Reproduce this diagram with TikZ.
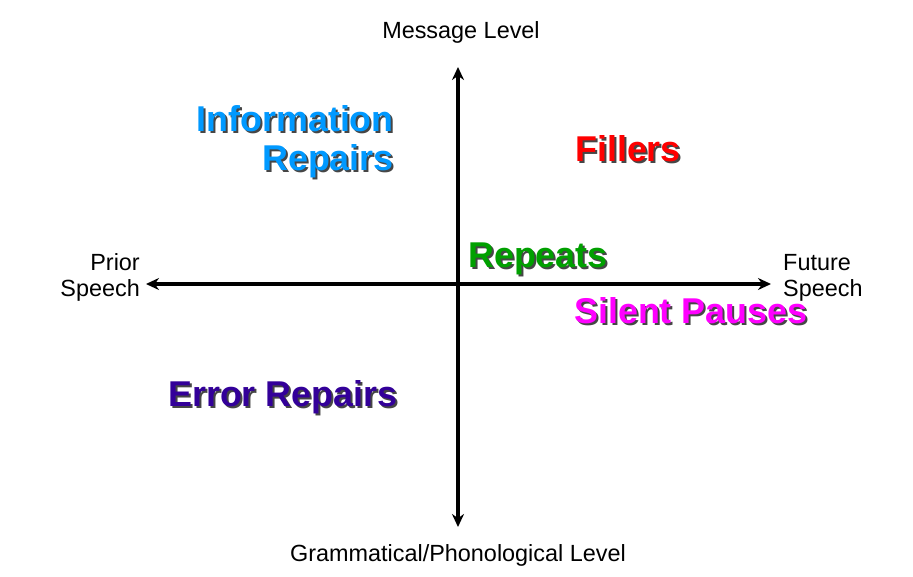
\documentclass[tikz,border=0pt]{standalone}
\usepackage{fontspec}
\setmainfont{Liberation Sans}
\usetikzlibrary{arrows.meta}

\definecolor{inforepair}{RGB}{0,153,255}
\definecolor{filler}{RGB}{255,0,0}
\definecolor{repeat}{RGB}{0,160,0}
\definecolor{pause}{RGB}{255,0,255}
\definecolor{errrepair}{RGB}{51,0,153}
\definecolor{shadowgray}{RGB}{70,70,70}

\tikzset{
  axis/.style={line width=3.2bp,{Stealth[length=13bp,width=12bp]}-{Stealth[length=13bp,width=12bp]}},
  plainlabel/.style={inner sep=0pt,font=\fontsize{23.5}{26}\selectfont},
  boldlabel/.style={inner sep=0pt,font=\fontsize{36}{40}\selectfont\bfseries}
}

% coloured label with a dark drop shadow
\newcommand{\shadowlabel}[5]{%
  \node[boldlabel,text=shadowgray,anchor=#2,align=right] at ([shift={(2,2)}]#3) {#5};
  \node[boldlabel,text=#4,anchor=#2,align=right] (#1) at (#3) {#5};
}

\begin{document}
\begin{tikzpicture}[x=1bp,y=-1bp]
  \useasboundingbox (0,0) rectangle (913,577);
  \fill[white] (0,0) rectangle (913,577);

  % axes
  \coordinate (prior) at (146,284);
  \coordinate (future) at (771,284);
  \coordinate (msg) at (458,67);
  \coordinate (gram) at (458,527);
  \draw[axis] (prior) -- (future);
  \draw[axis] (msg) -- (gram);

  % axis names
  \node[plainlabel,anchor=base] (msgtext) at (461,39) {Message Level};
  \node[plainlabel,anchor=base] (gramtext) at (458,561) {Grammatical/Phonological Level};
  \node[plainlabel,anchor=base east,align=right] (priortext) at (140,296) {Prior\\Speech};
  \node[plainlabel,anchor=base west,align=left] (futuretext) at (783,296) {Future\\Speech};

  % quadrants
  \shadowlabel{info}{base east}{394,171}{inforepair}{Information\\Repairs}
  \shadowlabel{fill}{base west}{575,162}{filler}{Fillers}
  \shadowlabel{rep}{base west}{468,268}{repeat}{Repeats}
  \shadowlabel{pause}{base west}{574,323}{pause}{Silent Pauses}
  \shadowlabel{err}{base west}{168,406}{errrepair}{Error Repairs}
\end{tikzpicture}
\end{document}
